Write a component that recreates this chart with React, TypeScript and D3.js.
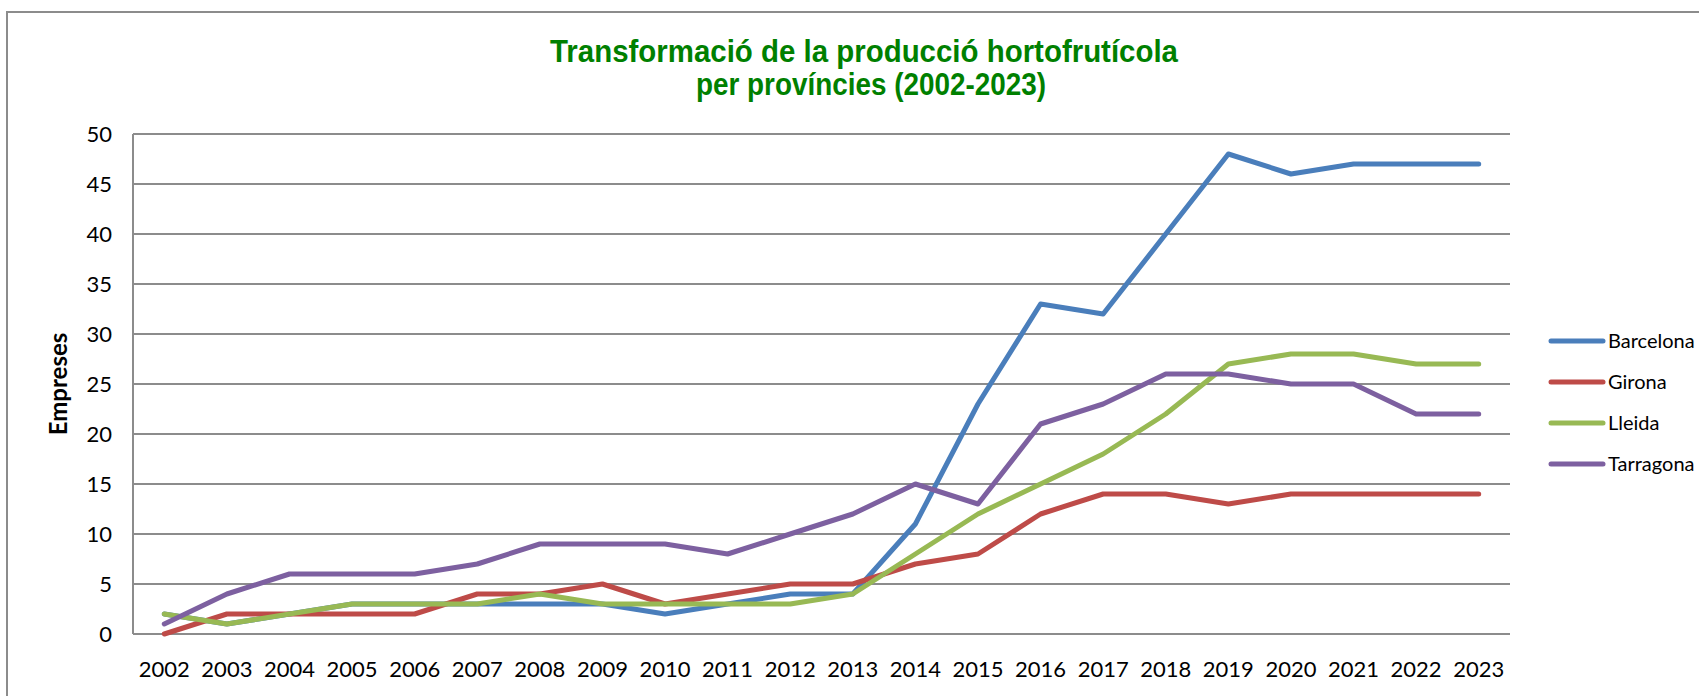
import React from "react";
import * as d3 from "d3";

const years = ["2002","2003","2004","2005","2006","2007","2008","2009","2010","2011","2012","2013","2014","2015","2016","2017","2018","2019","2020","2021","2022","2023"];
const barcelona = [2,1,2,3,3,3,3,3,2,3,4,4,11,23,33,32,40,48,46,47,47,47];
const girona = [0,2,2,2,2,4,4,5,3,4,5,5,7,8,12,14,14,13,14,14,14,14];
const lleida = [2,1,2,3,3,3,4,3,3,3,3,4,8,12,15,18,22,27,28,28,27,27];
const tarragona = [1,4,6,6,6,7,9,9,9,8,10,12,15,13,21,23,26,26,25,25,22,22];
const seriesNames = ["Barcelona","Girona","Lleida","Tarragona"];
const seriesColors = ["#4A7EBB","#BE4B48","#98B954","#7D60A0"];
const yTicks = [0,5,10,15,20,25,30,35,40,45,50];
const titleLines = ["Transformació de la producció hortofrutícola","per províncies (2002-2023)"];

export default function App() {
  const W = 1699, H = 696;
  const left = 133, right = 1510, top = 134, bottom = 634;
  const x = d3.scaleBand<string>().domain(years).range([left, right]);
  const y = d3.scaleLinear().domain([0, 50]).range([bottom, top]);
  const line = d3.line<number>()
    .x((_, i) => (x(years[i]) as number) + x.bandwidth() / 2)
    .y((d) => y(d));
  const data = [barcelona, girona, lleida, tarragona];
  const font = "Lato, 'Open Sans', sans-serif";
  return (
    <svg width={W} height={H} style={{ position: "absolute", left: 0, top: 0, background: "#fff" }}>
      <rect x={7} y={12} width={W + 20} height={H + 20} fill="#fff" stroke="#8c8c8c" strokeWidth={2} />
      <text x={864} y={62} textAnchor="middle" fill="#008000" fontFamily="'Liberation Sans', Arial, sans-serif" fontWeight="bold" fontSize={31} textLength={628} lengthAdjust="spacingAndGlyphs">{titleLines[0]}</text>
      <text x={871} y={95} textAnchor="middle" fill="#008000" fontFamily="'Liberation Sans', Arial, sans-serif" fontWeight="bold" fontSize={31} textLength={350} lengthAdjust="spacingAndGlyphs">{titleLines[1]}</text>
      {yTicks.map((t) => (
        <g key={t}>
          <line x1={left} x2={right} y1={y(t)} y2={y(t)} stroke="#8c8c8c" strokeWidth={2} />
          <text x={112} y={y(t) + 8} textAnchor="end" fontFamily={font} fontSize={22} fill="#000">{t}</text>
        </g>
      ))}
      <line x1={left} x2={left} y1={top} y2={bottom} stroke="#8c8c8c" strokeWidth={2} />
      {years.map((yr) => (
        <text key={yr} x={(x(yr) as number) + x.bandwidth() / 2} y={677} textAnchor="middle" fontFamily={font} fontSize={22} fill="#000">{yr}</text>
      ))}
      <text transform={`translate(67,384) rotate(-90)`} textAnchor="middle" fontFamily={font} fontWeight="bold" fontSize={24} fill="#000">Empreses</text>
      {data.map((d, i) => (
        <path key={i} d={line(d) as string} fill="none" stroke={seriesColors[i]} strokeWidth={5} strokeLinejoin="round" strokeLinecap="round" />
      ))}
      {seriesNames.map((n, i) => {
        const ly = 341 + i * 41;
        return (
          <g key={n}>
            <line x1={1551} x2={1603} y1={ly} y2={ly} stroke={seriesColors[i]} strokeWidth={5} strokeLinecap="round" />
            <text x={1608} y={ly + 7} fontFamily={font} fontSize={20} fill="#000">{n}</text>
          </g>
        );
      })}
    </svg>
  );
}
